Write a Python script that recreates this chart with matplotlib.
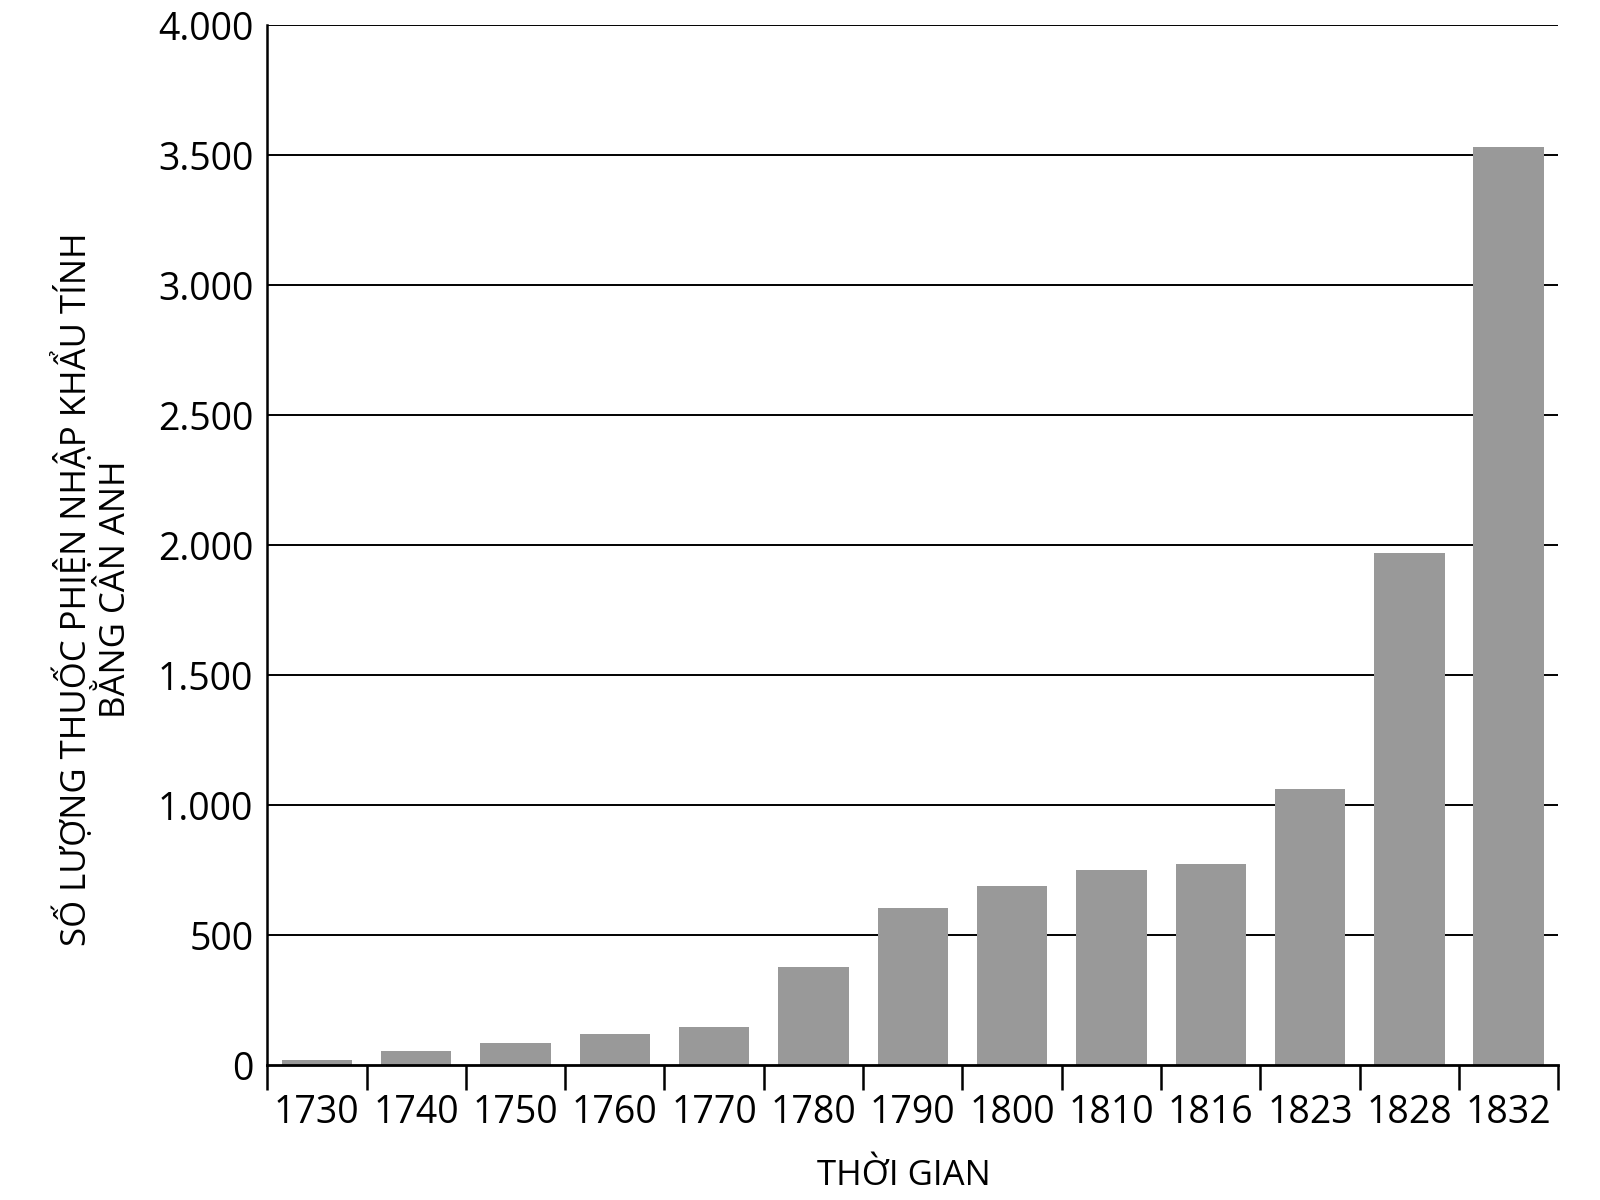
"""
plot.py

Bar chart: so luong thuoc phien nhap khau (tinh bang can Anh), 1730-1832.
Writes out.png (1600x1200).
"""

import matplotlib
matplotlib.use("Agg")

import matplotlib.pyplot as plt
from matplotlib import font_manager
from matplotlib.ticker import FixedLocator, FuncFormatter


YEARS = ["1730", "1740", "1750", "1760", "1770", "1780", "1790",
         "1800", "1810", "1816", "1823", "1828", "1832"]

AMOUNTS = [20, 55, 85, 118, 147, 378, 603, 690, 750, 775, 1060, 1970, 3530]

Y_TICKS = [0, 500, 1000, 1500, 2000, 2500, 3000, 3500, 4000]

Y_LABEL = "SỐ LƯỢNG THUỐC PHIỆN NHẬP KHẨU TÍNH\nBẰNG CÂN ANH"
X_LABEL = "THỜI GIAN"

BAR_COLOR = "#999999"


def pick_fonts() -> list[str]:
    installed = {f.name for f in font_manager.fontManager.ttflist}
    wanted = ["Liberation Sans Narrow", "Open Sans", "Noto Sans"]
    chosen = [name for name in wanted if name in installed]
    chosen.append("DejaVu Sans")
    return chosen


def dotted_thousands(value, _pos) -> str:
    return f"{int(value):,}".replace(",", ".")


def main():
    plt.rcParams["font.family"] = pick_fonts()

    fig = plt.figure(figsize=(16, 12), dpi=100)
    ax = fig.add_axes([0.167, 0.1125, 0.807, 0.8665])

    x = list(range(len(YEARS)))

    # grid first so the bars sit on top of it
    for y in Y_TICKS[1:]:
        ax.axhline(y, color="black", linewidth=1.4, zorder=1)

    ax.bar(x, AMOUNTS, width=0.71, color=BAR_COLOR, zorder=2)

    ax.set_xlim(-0.5, len(YEARS) - 0.5)
    ax.set_ylim(0, 4000)

    ax.spines["right"].set_visible(False)
    ax.spines["top"].set_visible(False)
    ax.spines["left"].set_linewidth(1.8)
    ax.spines["bottom"].set_linewidth(2.0)

    ax.yaxis.set_major_locator(FixedLocator(Y_TICKS))
    ax.yaxis.set_major_formatter(FuncFormatter(dotted_thousands))
    ax.tick_params(axis="y", length=0, pad=10, labelsize=27)

    ax.set_xticks(x)
    ax.set_xticklabels(YEARS)
    ax.set_xticks([i - 0.5 for i in range(len(YEARS) + 1)], minor=True)
    ax.tick_params(axis="x", which="major", length=0, pad=21, labelsize=27)
    ax.tick_params(axis="x", which="minor", direction="out",
                   length=18, width=1.8, color="black")

    fig.text(0.058, 0.509, Y_LABEL, rotation=90, ha="center", va="center",
             multialignment="center", fontsize=25, linespacing=1.15)
    fig.text(0.565, 0.020, X_LABEL, ha="center", va="center", fontsize=25)

    fig.savefig("out.png", dpi=100)
    plt.close(fig)


if __name__ == "__main__":
    main()
